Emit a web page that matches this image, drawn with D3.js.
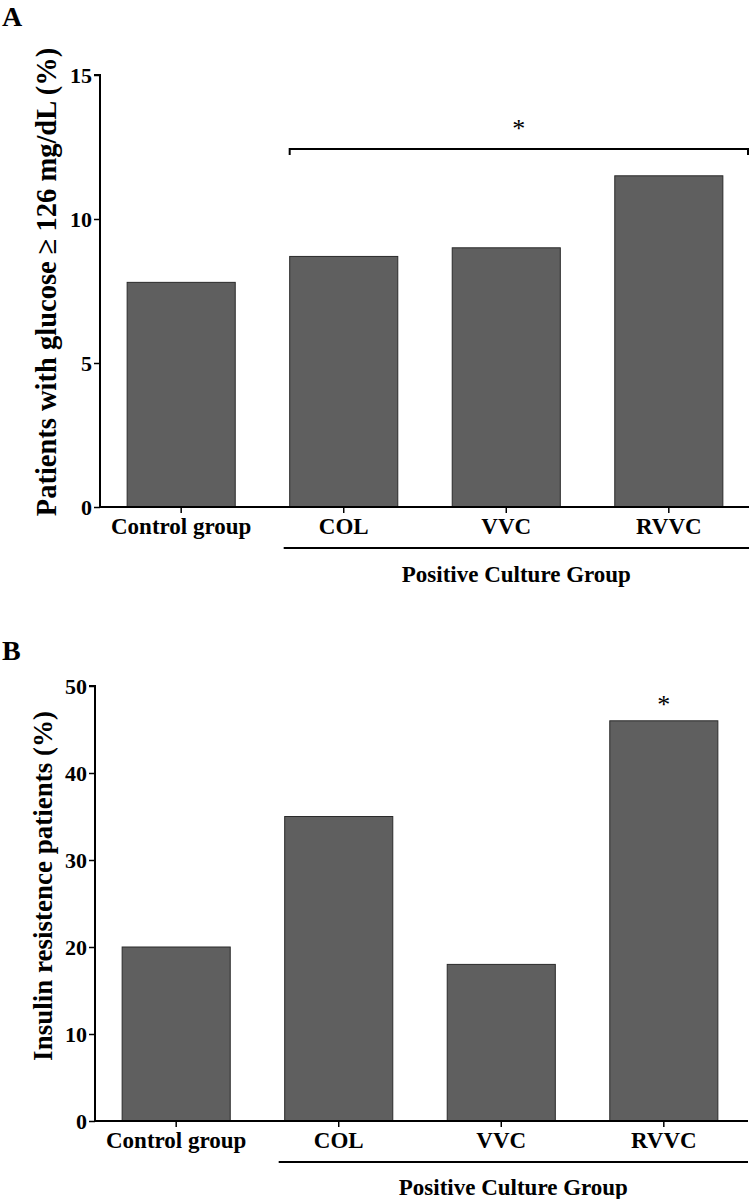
<!DOCTYPE html>
<html><head><meta charset="utf-8">
<script src="https://cdn.jsdelivr.net/npm/d3@7"></script>
<style>body{margin:0;background:#fff}svg{display:block}text{font-family:"Liberation Serif","Times New Roman",serif;font-weight:bold;fill:#000}</style>
</head><body><svg id="c" width="751" height="1199"></svg>
<script>
const categories = ["Control group", "COL", "VVC", "RVVC"];
const valuesA = [7.8, 8.7, 9.0, 11.5];
const valuesB = [20, 35, 18, 46];
const ticksA = [0, 5, 10, 15];
const ticksB = [0, 10, 20, 30, 40, 50];
const titleA = "Patients with glucose \u2265 126 mg/dL (%)";
const titleB = "Insulin resistence patients (%)";
const groupLabel = "Positive Culture Group";

const svg = d3.select("#c");

function panel(o) {
  const g = svg.append("g");
  const x = d3.scaleBand().domain(categories).range([o.x0, o.x1]).paddingInner(0.335).paddingOuter(0.167);
  const y = d3.scaleLinear().domain([0, o.max]).range([o.yb, o.yt]);
  g.selectAll("rect.bar").data(o.values).join("rect")
    .attr("x", (d, i) => x(categories[i]))
    .attr("y", d => y(d))
    .attr("width", x.bandwidth())
    .attr("height", d => y(0) - y(d))
    .attr("fill", "#5f5f5f").attr("stroke", "#2a2a2a").attr("stroke-width", 1);
  const ya = g.append("g").attr("transform", `translate(${o.x0},0)`)
    .call(d3.axisLeft(y).tickValues(o.ticks).tickSize(6).tickPadding(2).tickFormat(d3.format("d")));
  ya.select(".domain").attr("stroke-width", 2).attr("d", `M-6,${o.yt}H0V${o.yb}`);
  ya.selectAll(".tick line").attr("stroke-width", 1.5);
  ya.selectAll(".tick text").style("font-size", "22px").attr("dy", "0.35em");
  const xa = g.append("g").attr("transform", `translate(0,${o.yb})`)
    .call(d3.axisBottom(x).tickSize(6).tickPadding(6));
  xa.select(".domain").attr("stroke-width", 2).attr("d", `M${o.x0},0H${o.axEnd}`);
  xa.selectAll(".tick line").attr("stroke-width", 1.5);
  xa.selectAll(".tick text").style("font-size", "23px").attr("y", 27).attr("dy", 0);
  // group underline
  const gx0 = x("COL") - 6, gx1 = o.axEnd;
  g.append("line").attr("x1", gx0).attr("x2", gx1).attr("y1", o.yb + 41).attr("y2", o.yb + 41)
    .attr("stroke", "#000").attr("stroke-width", 2);
  g.append("text").attr("x", (gx0 + gx1) / 2).attr("y", o.yb + o.gl).attr("text-anchor", "middle")
    .style("font-size", "23px").text(groupLabel);
  // y title
  g.append("text").attr("transform", `translate(${o.tx},${o.ty}) rotate(-90)`).attr("text-anchor", "middle")
    .style("font-size", o.tfs + "px").text(o.title);
  // panel letter
  g.append("text").attr("x", 2).attr("y", o.ly).style("font-size", "28px").text(o.letter);
  return {x, y, g};
}

const A = panel({x0: 100, x1: 750, axEnd: 749, yb: 507, yt: 75, max: 15, values: valuesA, ticks: ticksA,
  title: titleA, tx: 56, ty: 282, tfs: 28.5, letter: "A", ly: 26, gl: 75});
// bracket
{
  const bx0 = A.x("COL"), bx1 = 748, by = 149;
  A.g.append("path").attr("d", `M${bx0},${by + 6}V${by}H${bx1}V${by + 6}`).attr("fill", "none").attr("stroke", "#000").attr("stroke-width", 2);
  A.g.append("text").attr("x", (bx0 + bx1) / 2).attr("y", by - 12).attr("text-anchor", "middle").style("font-size", "26px").style("font-weight", "normal").text("*");
}

const B = panel({x0: 95, x1: 745, axEnd: 748, yb: 1121, yt: 686, max: 50, values: valuesB, ticks: ticksB,
  title: titleB, tx: 52, ty: 886, tfs: 27, letter: "B", ly: 660, gl: 74});
B.g.append("text").attr("x", B.x("RVVC") + B.x.bandwidth() / 2).attr("y", B.y(valuesB[3]) - 8).attr("text-anchor", "middle").style("font-size", "26px").style("font-weight", "normal").text("*");
</script></body></html>
